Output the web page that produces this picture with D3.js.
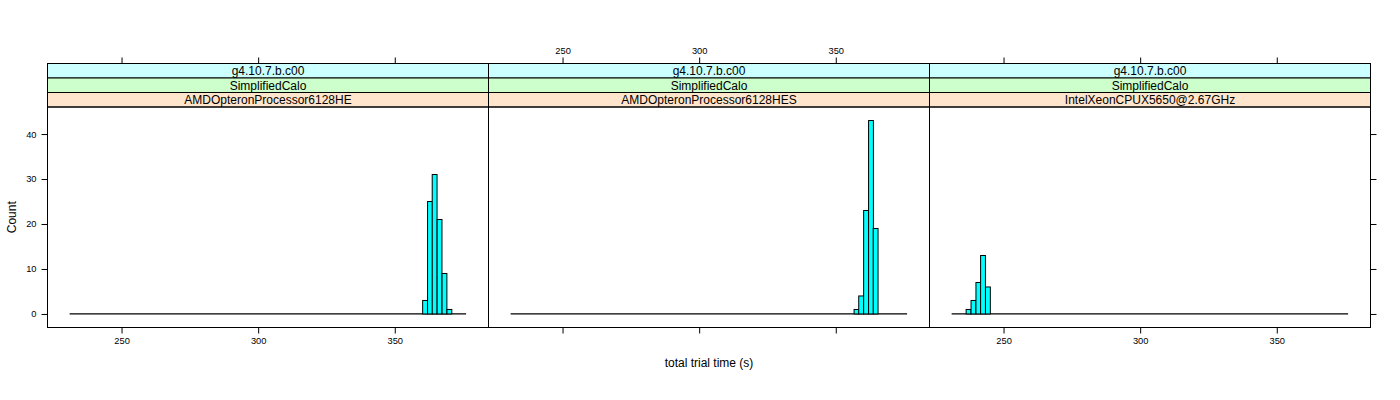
<!DOCTYPE html>
<html><head><meta charset="utf-8">
<script src="https://cdn.jsdelivr.net/npm/d3@7"></script>
<style>body{margin:0;background:#fff}svg{display:block}text{font-family:"Liberation Sans",Arial,Helvetica,sans-serif;fill:#000}</style>
</head><body><svg id="c" width="1400" height="400"></svg>
<script>
// ---- data ----
const versions = ["g4.10.7.b.c00", "g4.10.7.b.c00", "g4.10.7.b.c00"];
const tests = ["SimplifiedCalo", "SimplifiedCalo", "SimplifiedCalo"];
const cpus = ["AMDOpteronProcessor6128HE", "AMDOpteronProcessor6128HES", "IntelXeonCPUX5650@2.67GHz"];
const binWidth = 1.77;
const histRange = [231.0, 376.1];           // first and last histogram break
const binStarts1 = [360.2, 362.0, 363.7, 365.5, 367.3, 369.1];
const counts1    = [3, 25, 31, 21, 9, 1];
const binStarts2 = [356.7, 358.4, 360.2, 362.0, 363.7];
const counts2    = [1, 4, 23, 43, 19];
const binStarts3 = [236.3, 238.1, 239.9, 241.6, 243.4];
const counts3    = [1, 3, 7, 13, 6];
const xTicks = [250, 300, 350];
const yTicks = [0, 10, 20, 30, 40];
const xDomain = [222.9, 384.3];
const yDomain = [-3.01, 46.01];
const xTitle = "total trial time (s)";
const yTitle = "Count";

const panelData = [
  {starts: binStarts1, counts: counts1},
  {starts: binStarts2, counts: counts2},
  {starts: binStarts3, counts: counts3}
];

// ---- layout ----
const svg = d3.select("#c");
const left = 47.5, right = 1370.5, plotTop = 107, plotBottom = 327.5, stripTop = 63.5;
const stripH = (plotTop - stripTop) / 3;
const pw = (right - left) / 3;
const tickFont = "9.3px", stripFont = "12px";

const y = d3.scaleLinear().domain(yDomain).range([plotBottom, plotTop]);

panelData.forEach((pd, i) => {
  const x0 = left + i * pw;
  const x = d3.scaleLinear().domain(xDomain).range([x0, x0 + pw]);
  const g = svg.append("g");

  // strips (bottom: cpu, middle: test, top: version)
  const stripCols = ["#ccffff", "#ccffcc", "#ffe5cc"];
  const stripTexts = [versions[i], tests[i], cpus[i]];
  stripTexts.forEach((t, k) => {
    const sy = stripTop + k * stripH;
    g.append("rect").attr("x", x0).attr("y", sy).attr("width", pw).attr("height", stripH)
      .attr("fill", stripCols[k]).attr("stroke", "#000").attr("stroke-width", 1);
    g.append("text").attr("x", x0 + pw / 2).attr("y", sy + stripH / 2).attr("dy", "0.36em")
      .attr("text-anchor", "middle").style("font-size", stripFont).text(t);
  });

  // baseline (zero-count bins)
  g.append("line").attr("x1", x(histRange[0])).attr("x2", x(histRange[1]))
    .attr("y1", y(0)).attr("y2", y(0)).attr("stroke", "#000").attr("stroke-width", 1.2);

  // bars
  g.selectAll("rect.bar").data(pd.starts.map((s, j) => ({s, c: pd.counts[j]})))
    .enter().append("rect").attr("class", "bar")
    .attr("x", d => x(d.s)).attr("width", d => x(d.s + binWidth) - x(d.s))
    .attr("y", d => y(d.c)).attr("height", d => y(0) - y(d.c))
    .attr("fill", "#00ffff").attr("stroke", "#000").attr("stroke-width", 1);

  // panel border
  g.append("rect").attr("x", x0).attr("y", plotTop).attr("width", pw).attr("height", plotBottom - plotTop)
    .attr("fill", "none").attr("stroke", "#000").attr("stroke-width", 1);

  // x axes: bottom ticks, labels on panels 1 & 3; top ticks, labels on panel 2
  const bottom = d3.axisBottom(x).tickValues(xTicks).tickSize(6).tickPadding(4)
    .tickFormat(i === 1 ? () => "" : d3.format("d"));
  const bAx = g.append("g").attr("transform", `translate(0,${plotBottom})`).call(bottom);
  const top = d3.axisTop(x).tickValues(xTicks).tickSize(6).tickPadding(4)
    .tickFormat(i === 1 ? d3.format("d") : () => "");
  const tAx = g.append("g").attr("transform", `translate(0,${stripTop})`).call(top);
  [bAx, tAx].forEach(a => {
    a.select(".domain").remove();
    a.selectAll("text").style("font-size", tickFont).attr("font-family", null);
    a.selectAll("line").attr("stroke", "#000");
  });

  if (i === 0) {
    const yl = g.append("g").attr("transform", `translate(${x0},0)`)
      .call(d3.axisLeft(y).tickValues(yTicks).tickSize(6).tickPadding(5).tickFormat(d3.format("d")));
    yl.select(".domain").remove();
    yl.selectAll("text").style("font-size", tickFont).attr("font-family", null);
  }
  if (i === 2) {
    const yr = g.append("g").attr("transform", `translate(${x0 + pw},0)`)
      .call(d3.axisRight(y).tickValues(yTicks).tickSize(6).tickFormat(() => ""));
    yr.select(".domain").remove();
  }
});

svg.append("text").attr("x", (left + right) / 2).attr("y", 362.5).attr("dy", "0.36em")
  .attr("text-anchor", "middle").style("font-size", "12px").text(xTitle);
svg.append("text").attr("transform", `translate(12,${(plotTop + plotBottom) / 2}) rotate(-90)`)
  .attr("dy", "0.36em").attr("text-anchor", "middle").style("font-size", "12px").text(yTitle);
</script></body></html>
